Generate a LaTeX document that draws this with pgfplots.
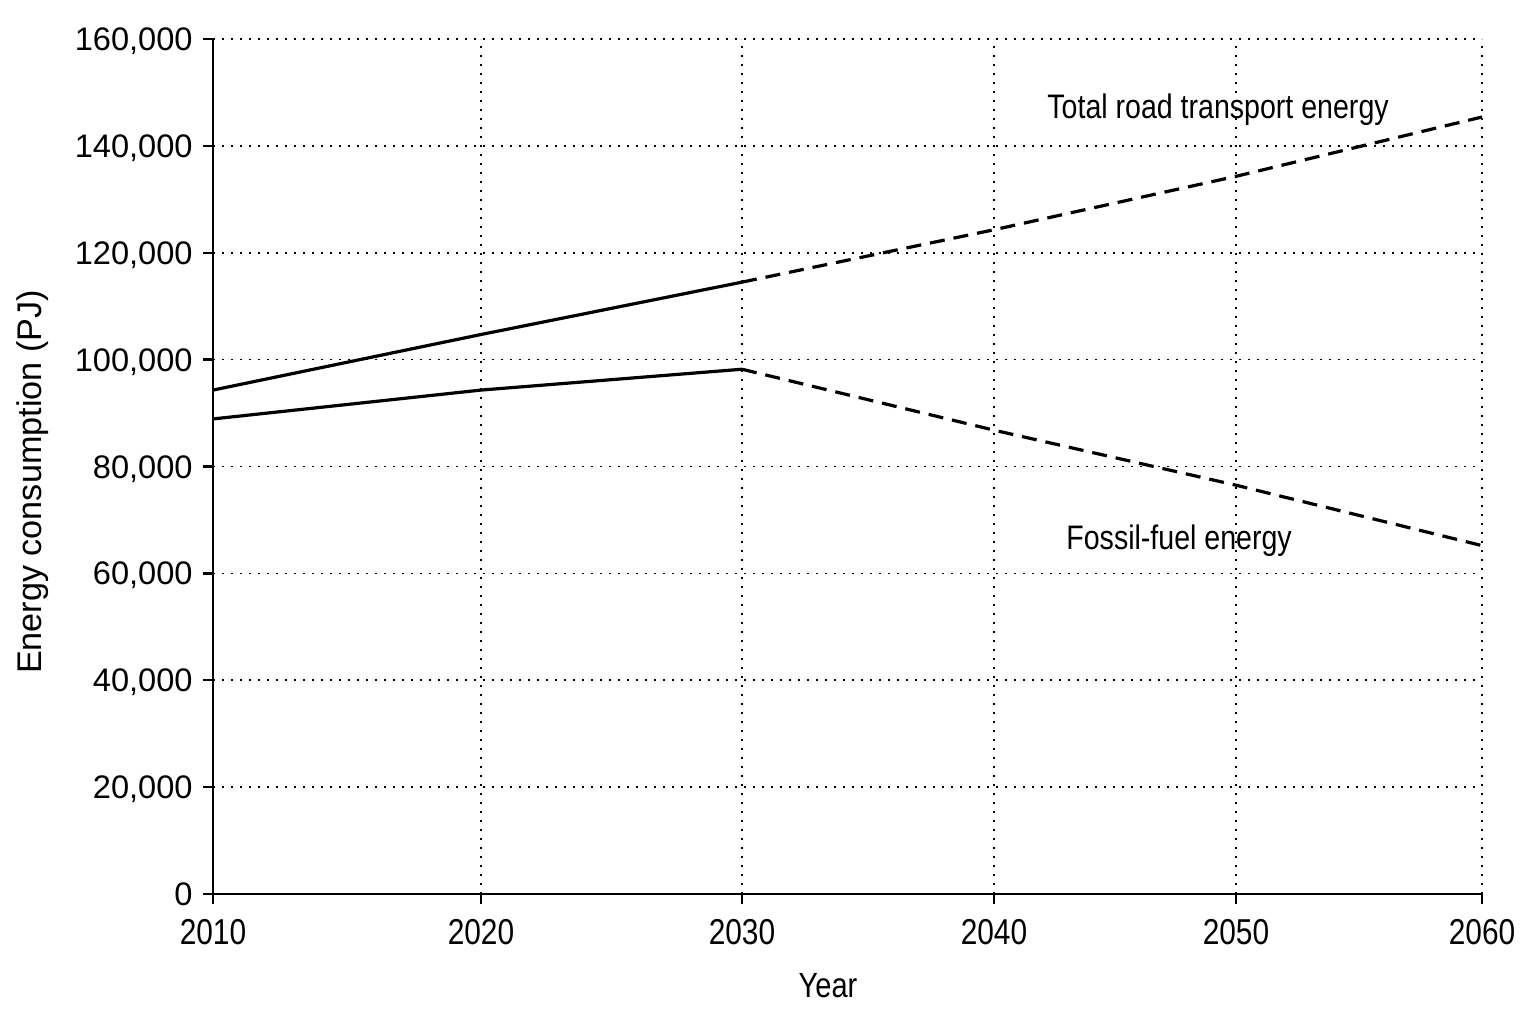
\documentclass[border=0pt]{standalone}
\usepackage{fontspec}
\setmainfont{Liberation Sans}
\newfontfamily\condfont[FakeStretch=0.83]{Liberation Sans}
\newfontfamily\annfont[FakeStretch=0.84]{Liberation Sans}
\usepackage{pgfplots}
\pgfplotsset{compat=1.18}

\begin{document}
\begin{tikzpicture}
% page = 1536 x 1024 px at 0.5bp per px; axis corner at px (213,894)
\useasboundingbox (-106.5bp,-65bp) rectangle (661.5bp,447bp);
\begin{axis}[
    scale only axis,
    width=634.5bp, height=427.5bp,
    xmin=0, xmax=1269, ymin=0, ymax=160000,
    axis x line=bottom, axis y line=left,
    axis line style={-, line width=1.4bp, black},
    tick align=outside,
    major tick length=5bp,
    tick style={line width=1.2bp, black},
    scaled y ticks=false,
    xtick={0,268,529,781,1023,1269},
    xticklabels={2010,2020,2030,2040,2050,2060},
    ytick={0,20000,40000,60000,80000,100000,120000,140000,160000},
    yticklabels={0,{20,000},{40,000},{60,000},{80,000},{100,000},{120,000},{140,000},{160,000}},
    x tick label style={font=\condfont\fontsize{18bp}{20bp}\selectfont, anchor=base, inner sep=0pt, yshift=-20bp},
    y tick label style={font=\fontsize{16.3bp}{19bp}\selectfont, anchor=base east, inner sep=0pt,
        xshift=-5bp, yshift=-5.8bp},
    grid=major,
    major grid style={black, line width=0.8bp, dash pattern=on 0.8bp off 3.7bp},
    xlabel={Year},
    ylabel={Energy consumption (PJ)},
    xlabel style={font=\condfont\fontsize{17.5bp}{20bp}\selectfont, anchor=base, inner sep=0pt,
        at={(axis description cs:0.4846,-0.1216)}},
    ylabel style={font=\fontsize{17.1bp}{20bp}\selectfont, anchor=base, inner sep=0pt,
        at={(axis description cs:-0.1351,0.4819)}, rotate=0},
    clip=false,
]
% Total road transport energy (solid to 2030, projected after)
\addplot[black, line width=1.6bp] coordinates {
    (0,94300) (268,104700) (529,114500)
};
\addplot[black, line width=1.6bp, dash pattern=on 7.5bp off 4.5bp] coordinates {
    (529,114500) (781,124300) (1023,134300) (1269,145400)
};
% Fossil-fuel energy
\addplot[black, line width=1.6bp] coordinates {
    (0,88900) (268,94300) (529,98200)
};
\addplot[black, line width=1.6bp, dash pattern=on 7.5bp off 4.5bp] coordinates {
    (529,98200) (781,86800) (1023,76500) (1269,65200)
};
\node[anchor=base west, inner sep=0pt, font=\annfont\fontsize{17bp}{20bp}\selectfont]
    at (axis cs:834,145200) {Total road transport energy};
\node[anchor=base west, inner sep=0pt, font=\annfont\fontsize{17bp}{20bp}\selectfont]
    at (axis cs:853,64400) {Fossil-fuel energy};
\end{axis}
\end{tikzpicture}
\end{document}
